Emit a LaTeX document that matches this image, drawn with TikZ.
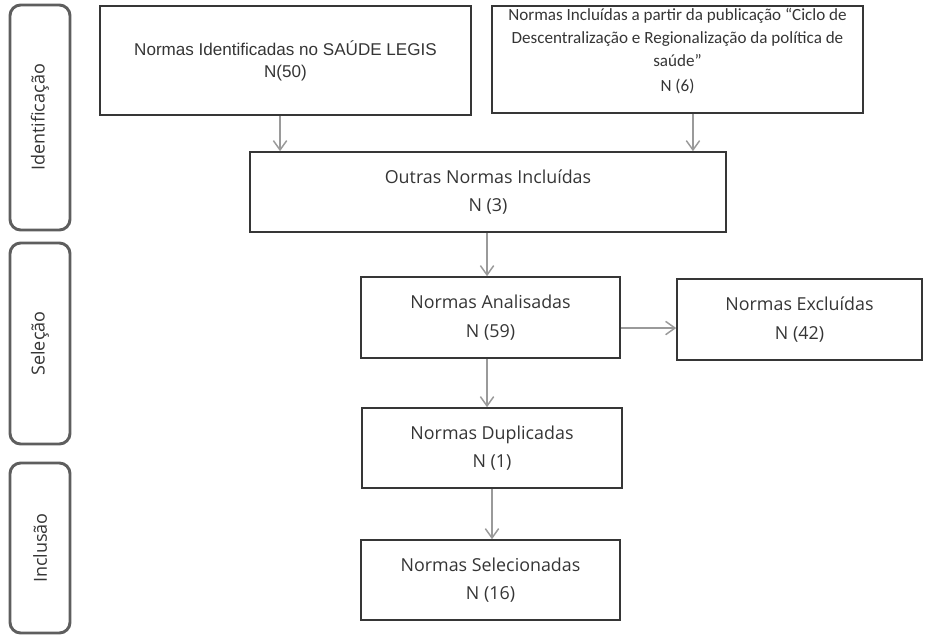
\documentclass[tikz,border=0pt]{standalone}
\usepackage{fontspec}
\setmainfont{Carlito}
\newfontfamily\arialfont{Liberation Sans}
\newfontfamily\opensans{Open Sans}
\usetikzlibrary{arrows.meta}
\usetikzlibrary{positioning}
\definecolor{borda}{HTML}{363636}
\definecolor{cinza}{HTML}{9A9A9A}
\definecolor{fasecor}{HTML}{5E5E5E}
\definecolor{texto}{HTML}{353535}
\tikzstyle{caixa} = [rectangle, draw=borda, line width=1.2pt, text=texto, align=center, inner sep=0pt]
\tikzstyle{etapa} = [caixa, font=\opensans\fontsize{13.4pt}{21.5pt}\selectfont]
\tikzstyle{fase} = [rectangle, rounded corners=8pt, draw=fasecor, line width=2.2pt, text=texto, minimum height=45pt, rotate=90, font=\opensans\fontsize{13.5pt}{15pt}\selectfont]
\tikzstyle{fluxo} = [draw=cinza, line width=1.1pt, -{Straight Barb[length=7pt,width=10pt]}]

\begin{document}
\begin{tikzpicture}[x=0.75pt,y=-0.75pt]
  \useasboundingbox (0,0) rectangle (927,636);

  % fases
  \node (ident) [fase, minimum width=168.75pt] at (40,117.5) {Identificação};
  \node (selec) [fase, minimum width=150.75pt] at (40,343.5) {Seleção};
  \node (inclu) [fase, minimum width=127.5pt] at (40,548) {Inclusão};

  % caixas
  \node (saude) [caixa, minimum width=278.25pt, minimum height=81.75pt, font=\arialfont\fontsize{12.8pt}{16.5pt}\selectfont] at (285.5,60.5) {Normas Identificadas no SAÚDE LEGIS\\N(50)};
  \node (ciclo) [caixa, minimum width=278.25pt, minimum height=80.25pt, font=\fontsize{12.8pt}{17pt}\selectfont] at (677.5,59.5) {Normas Incluídas a partir da publicação “Ciclo de\\Descentralização e Regionalização da política de\\saúde”\\[2pt]N (6)\\[-3pt]\mbox{}};
  \node (outras) [etapa, minimum width=357pt, minimum height=60pt] at (488,192) {Outras Normas Incluídas\\N (3)};
  \node (analis) [etapa, minimum width=194.25pt, minimum height=60.75pt] at (490.5,317.5) {Normas Analisadas\\N (59)};
  \node (exclu) [etapa, minimum width=183.75pt, minimum height=60.75pt] at (799.5,319.5) {Normas Excluídas\\N (42)};
  \node (dupli) [etapa, minimum width=195pt, minimum height=60pt] at (492,448) {Normas Duplicadas\\N (1)};
  \node (selecion) [etapa, minimum width=194.25pt, minimum height=60pt] at (490.5,580) {Normas Selecionadas\\N (16)};

  % setas
  \draw[fluxo] ([xshift=-4.1pt]saude.south) -- ([xshift=-4.1pt]saude.south |- outras.north);
  \draw[fluxo] ([xshift=11.6pt]ciclo.south) -- ([xshift=11.6pt]ciclo.south |- outras.north);
  \draw[fluxo] ([xshift=-2.6pt]analis.north |- outras.south) -- ([xshift=-2.6pt]analis.north);
  \draw[fluxo] ([yshift=-7.9pt]analis.east) -- ([yshift=-7.9pt]analis.east -| exclu.west);
  \draw[fluxo] ([xshift=-2.6pt]analis.south) -- ([xshift=-2.6pt]analis.south |- dupli.north);
  \draw[fluxo] (dupli.south) -- (dupli.south |- selecion.north);
\end{tikzpicture}
\end{document}
